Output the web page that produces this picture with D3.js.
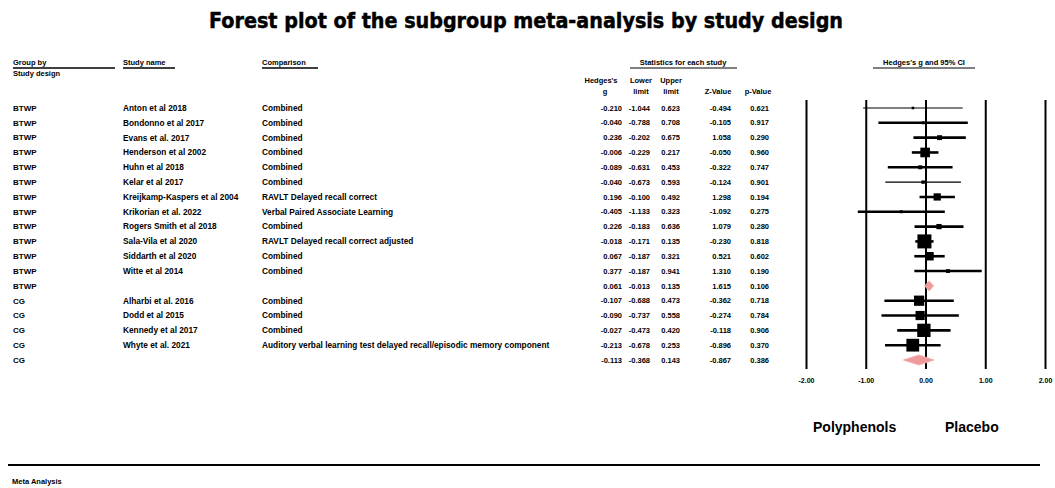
<!DOCTYPE html>
<html>
<head>
<meta charset="utf-8">
<script src="https://cdn.jsdelivr.net/npm/d3@7/dist/d3.min.js"></script>
<style>
  html, body { margin: 0; padding: 0; background: #ffffff; }
  svg { display: block; }
  text { font-family: "Liberation Sans", Arial, sans-serif; fill: #000; }
</style>
</head>
<body>
<svg id="chart" width="1055" height="488"></svg>
<script>
// ---- Study-level data -------------------------------------------------
const groups = ["BTWP","BTWP","BTWP","BTWP","BTWP","BTWP","BTWP","BTWP","BTWP","BTWP","BTWP","BTWP",
                "CG","CG","CG","CG"];
const studies = [
  "Anton et al 2018", "Bondonno et al 2017", "Evans et al. 2017", "Henderson et al 2002",
  "Huhn et al 2018", "Kelar et al 2017", "Kreijkamp-Kaspers et al 2004", "Krikorian et al. 2022",
  "Rogers Smith et al 2018", "Sala-Vila et al 2020", "Siddarth et al 2020", "Witte et al 2014",
  "Alharbi et al. 2016", "Dodd et al 2015", "Kennedy et al 2017", "Whyte et al. 2021"
];
const comparisons = [
  "Combined", "Combined", "Combined", "Combined", "Combined", "Combined",
  "RAVLT Delayed recall correct", "Verbal Paired Associate Learning", "Combined",
  "RAVLT Delayed recall correct adjusted", "Combined", "Combined",
  "Combined", "Combined", "Combined",
  "Auditory verbal learning test delayed recall/episodic memory component"
];
const hedgesG   = [-0.210, -0.040, 0.236, -0.006, -0.089, -0.040, 0.196, -0.405, 0.226, -0.018, 0.067, 0.377,
                   -0.107, -0.090, -0.027, -0.213];
const lowerLimit = [-1.044, -0.788, -0.202, -0.229, -0.631, -0.673, -0.100, -1.133, -0.183, -0.171, -0.187, -0.187,
                   -0.688, -0.737, -0.473, -0.678];
const upperLimit = [0.623, 0.708, 0.675, 0.217, 0.453, 0.593, 0.492, 0.323, 0.636, 0.135, 0.321, 0.941,
                   0.473, 0.558, 0.420, 0.253];
const zValues   = [-0.494, -0.105, 1.058, -0.050, -0.322, -0.124, 1.298, -1.092, 1.079, -0.230, 0.521, 1.310,
                   -0.362, -0.274, -0.118, -0.896];
const pValues   = [0.621, 0.917, 0.290, 0.960, 0.747, 0.901, 0.194, 0.275, 0.280, 0.818, 0.602, 0.190,
                   0.718, 0.784, 0.906, 0.370];

// ---- Subgroup (pooled) estimates -------------------------------------
const summaryGroups = ["BTWP", "CG"];
const summaryG      = [0.061, -0.113];
const summaryLower  = [-0.013, -0.368];
const summaryUpper  = [0.135, 0.143];
const summaryZ      = [1.615, -0.867];
const summaryP      = [0.106, 0.386];

// ---- Axis ticks -------------------------------------------------------
const axisTicks = [-2, -1, 0, 1, 2];
const axisTickLabels = ["-2.00", "-1.00", "0.00", "1.00", "2.00"];

// Studies drawn with a thin confidence-interval line
const thinLineStudies = new Set(["Anton et al 2018", "Kelar et al 2017"]);

// ---- Build row list: studies of each subgroup followed by its pooled row
const rows = [];
summaryGroups.forEach((grp, gi) => {
  const idx = groups.map((g, i) => g === grp ? i : -1).filter(i => i >= 0);
  const weights = idx.map(i => {
    const se = (upperLimit[i] - lowerLimit[i]) / 3.92;
    return 1 / (se * se);
  });
  const total = d3.sum(weights);
  idx.forEach((i, k) => rows.push({
    group: grp, study: studies[i], comparison: comparisons[i],
    g: hedgesG[i], lo: lowerLimit[i], hi: upperLimit[i], z: zValues[i], p: pValues[i],
    share: weights[k] / total, summary: false
  }));
  rows.push({
    group: grp, study: "", comparison: "",
    g: summaryG[gi], lo: summaryLower[gi], hi: summaryUpper[gi], z: summaryZ[gi], p: summaryP[gi],
    summary: true
  });
});

const svg = d3.select("#chart");
const fmt = v => v.toFixed(3);

// Scales
const x = d3.scaleLinear().domain([-2, 2]).range([806, 1045]);
const y = d3.scaleLinear().domain([0, rows.length - 1]).range([108, 360]);
const boxSide = d3.scaleSqrt().domain([0, 1]).range([0, 23]);

// ---- Title -----------------------------------------------------------
svg.append("text")
  .attr("x", 526).attr("y", 28)
  .attr("text-anchor", "middle")
  .attr("textLength", 634).attr("lengthAdjust", "spacingAndGlyphs")
  .style("font-family", "'DejaVu Sans', sans-serif")
  .style("font-weight", "bold").style("font-size", "21px")
  .attr("stroke", "#000").attr("stroke-width", 0.5)
  .text("Forest plot of the subgroup meta-analysis by study design");

// ---- Column headers ----------------------------------------------------
const hdr = (t, xx, yy, anchor) => svg.append("text")
  .attr("x", xx).attr("y", yy).attr("text-anchor", anchor || "start")
  .attr("dy", "0.35em")
  .style("font-size", "7.5px").style("font-weight", "bold").text(t);
const rule = (x1, x2, yy, w) => svg.append("line")
  .attr("x1", x1).attr("x2", x2).attr("y1", yy).attr("y2", yy)
  .attr("stroke", "#000").attr("stroke-width", w || 1.5);

hdr("Group by", 13, 62);  rule(13, 115, 68);
hdr("Study design", 13, 73);
hdr("Study name", 123, 62); rule(123, 175, 68);
hdr("Comparison", 262, 62); rule(262, 318, 68);
hdr("Statistics for each study", 683, 62, "middle"); rule(630, 737, 68, 1);
hdr("Hedges's", 601, 80, "middle"); hdr("g", 605, 91, "middle");
hdr("Lower", 641, 80, "middle");   hdr("limit", 641, 91, "middle");
hdr("Upper", 671, 80, "middle");   hdr("limit", 671, 91, "middle");
hdr("Z-Value", 718, 91, "middle");
hdr("p-Value", 758, 91, "middle");
hdr("Hedges's g and 95% CI", 924, 62, "middle"); rule(873, 975, 68, 1);

// ---- Table rows ------------------------------------------------------
const statCols = [
  { key: "g",  x: 622 },
  { key: "lo", x: 650 },
  { key: "hi", x: 680 },
  { key: "z",  x: 731 },
  { key: "p",  x: 769 }
];
const tbl = svg.append("g").style("font-weight", "bold");
rows.forEach((r, i) => {
  const yy = y(i);
  const t = (txt, xx, anchor, size) => tbl.append("text")
    .attr("x", xx).attr("y", yy).attr("dy", "0.35em")
    .style("font-size", size)
    .attr("text-anchor", anchor || "start").text(txt);
  t(r.group, 13, "start", "8px");
  if (r.study) t(r.study, 123, "start", "8.3px");
  if (r.comparison) t(r.comparison, 262, "start", "8.3px");
  statCols.forEach(c => t(fmt(r[c.key]), c.x, "end", "7.5px"));
});

// ---- Forest plot axis with full-height reference lines ------------------
const axisY = 369;
const axis = d3.axisBottom(x)
  .tickValues(axisTicks)
  .tickFormat((d, i) => axisTickLabels[i])
  .tickSizeInner(-(axisY - 100))
  .tickSizeOuter(0)
  .tickPadding(9);
const ax = svg.append("g").attr("transform", `translate(0,${axisY})`).call(axis);
ax.select(".domain").remove();
ax.selectAll(".tick line").attr("stroke", "#000").attr("stroke-width", 2);
ax.selectAll(".tick text")
  .style("font-family", "'Liberation Sans', Arial, sans-serif")
  .style("font-size", "7px").style("font-weight", "bold").attr("fill", "#000");

// ---- Confidence intervals, boxes and diamonds ---------------------------
const marks = svg.append("g");
rows.forEach((r, i) => {
  const yy = y(i);
  if (r.summary) {
    const h = 5;
    marks.append("path")
      .attr("d", `M${x(r.lo)},${yy} L${x(r.g)},${yy - h} L${x(r.hi)},${yy} L${x(r.g)},${yy + h} Z`)
      .attr("fill", "#ef9a9a").attr("stroke", "#f2b0b0").attr("stroke-width", 1);
  } else {
    marks.append("line")
      .attr("x1", x(r.lo)).attr("x2", x(r.hi)).attr("y1", yy).attr("y2", yy)
      .attr("stroke", "#000")
      .attr("stroke-width", thinLineStudies.has(r.study) ? 1.2 : 2.6);
    const s = Math.max(2, boxSide(r.share));
    marks.append("rect")
      .attr("x", x(r.g) - s / 2).attr("y", yy - s / 2)
      .attr("width", s).attr("height", s).attr("fill", "#000");
  }
});

// ---- Direction labels ---------------------------------------------------
svg.append("text").attr("x", 813).attr("y", 432)
  .style("font-size", "14px").style("font-weight", "bold").text("Polyphenols");
svg.append("text").attr("x", 945).attr("y", 432)
  .style("font-size", "14px").style("font-weight", "bold").text("Placebo");

// ---- Footer -------------------------------------------------------------
rule(8, 1040, 465, 2);
svg.append("text").attr("x", 12).attr("y", 481).attr("dy", "0.35em")
  .style("font-size", "7.5px").style("font-weight", "bold").text("Meta Analysis");
</script>
</body>
</html>
